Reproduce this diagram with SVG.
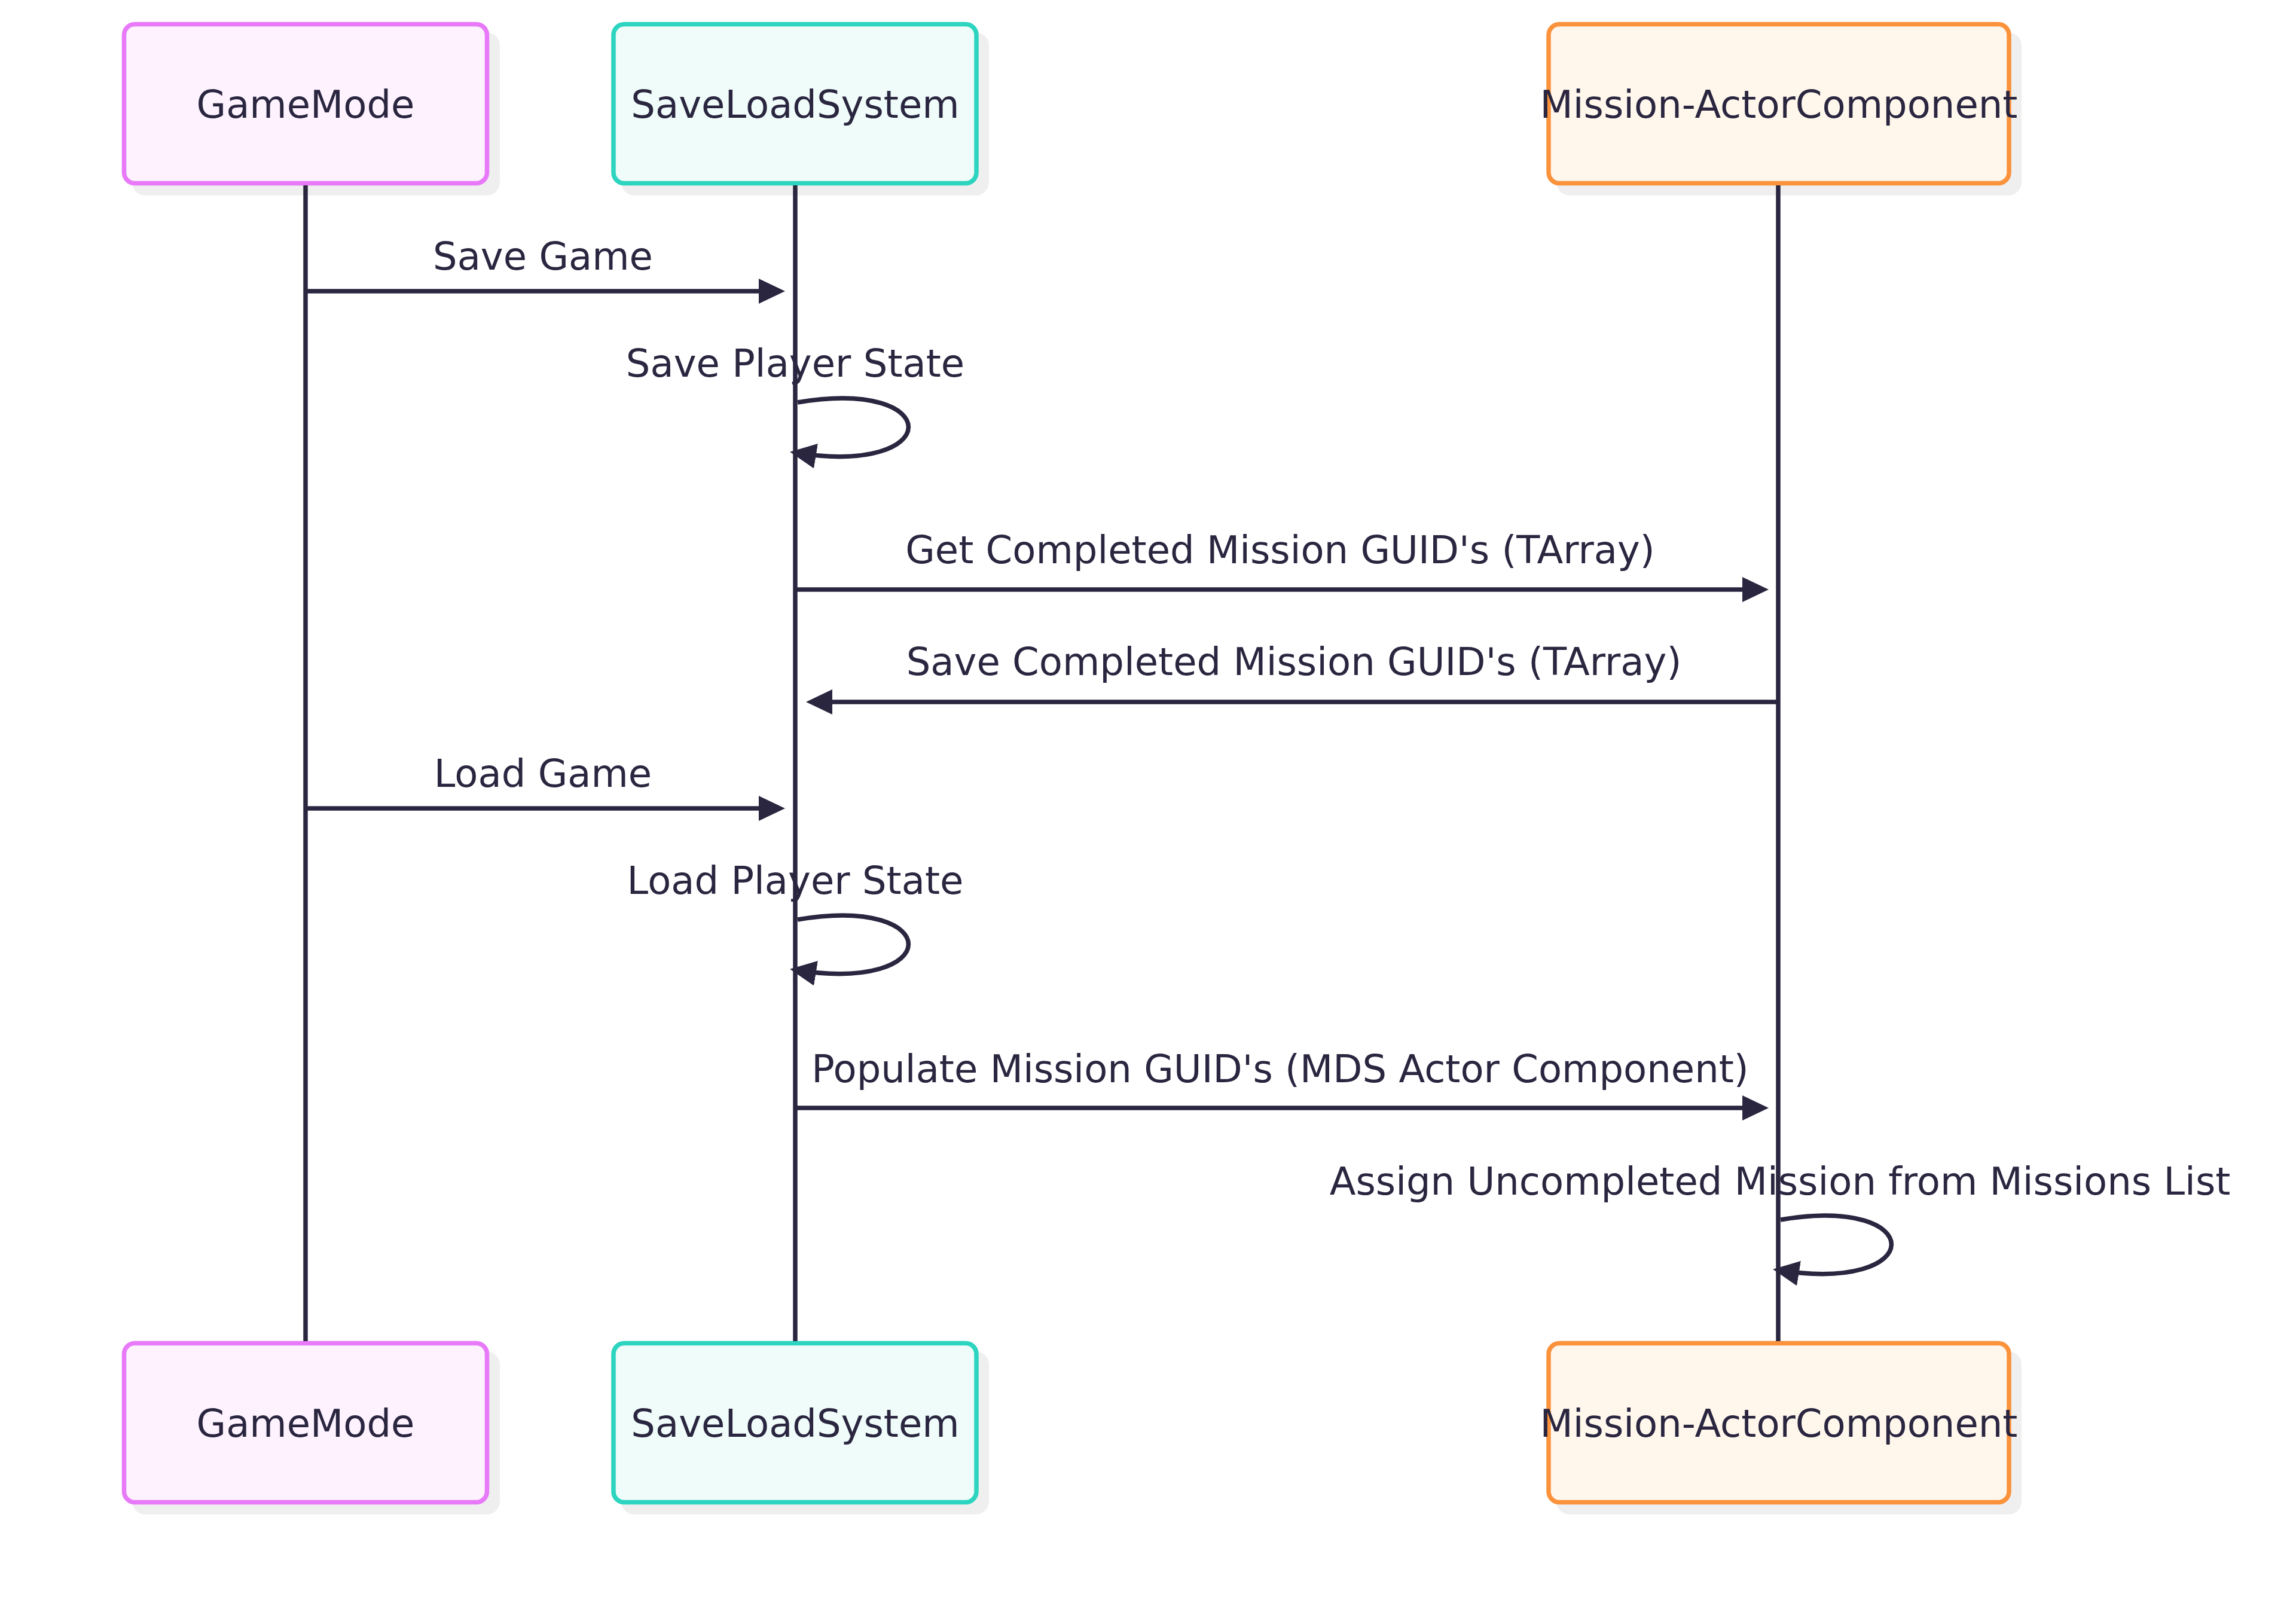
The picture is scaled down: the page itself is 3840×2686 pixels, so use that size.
<svg xmlns="http://www.w3.org/2000/svg" width="3840" height="2686" viewBox="0 0 3840 2686">
<defs>
<style>
text{font-family:"DejaVu Sans","Noto Sans",sans-serif;fill:#2a2640;}
.lbl{font-size:64px;text-anchor:middle;}
.msg{font-size:64px;text-anchor:middle;}
.shadow{fill:#efefef;}
.gm{fill:#fdf2fe;stroke:#e879f9;stroke-width:7.5;}
.sl{fill:#effcf9;stroke:#2dd4bf;stroke-width:7.5;}
.mc{fill:#fff6ec;stroke:#fb923c;stroke-width:7.5;}
.life{stroke:#2a2640;stroke-width:7.5;fill:none;}
.m{stroke:#2a2640;stroke-width:7.5;fill:none;marker-end:url(#arr);}
</style>
<marker id="arr" viewBox="0 0 44 42" refX="36" refY="21" markerWidth="44" markerHeight="42" markerUnits="userSpaceOnUse" orient="auto">
<path d="M0,0 L44,21 L0,42 z" fill="#2a2640"/>
</marker>
</defs>
<rect width="3840" height="2686" fill="#ffffff"/>
<g id="GameMode-top">
<rect class="shadow" x="221" y="54" width="615" height="273" rx="22"/>
<rect class="gm" x="207.5" y="40.5" width="607" height="266" rx="18"/>
<text class="lbl" x="511" y="197">GameMode</text>
</g>
<g id="SaveLoadSystem-top">
<rect class="shadow" x="1039" y="54" width="615" height="273" rx="22"/>
<rect class="sl" x="1026" y="40.5" width="607" height="266" rx="18"/>
<text class="lbl" x="1330" y="197">SaveLoadSystem</text>
</g>
<g id="MissionActorComponent-top">
<rect class="shadow" x="2603" y="54" width="778" height="273" rx="22"/>
<rect class="mc" x="2590" y="40.5" width="770" height="266" rx="18"/>
<text class="lbl" x="2975" y="197">Mission-ActorComponent</text>
</g>
<g id="GameMode-bottom">
<rect class="shadow" x="221" y="2260" width="615" height="273" rx="22"/>
<rect class="gm" x="207.5" y="2246.5" width="607" height="266" rx="18"/>
<text class="lbl" x="511" y="2403">GameMode</text>
</g>
<g id="SaveLoadSystem-bottom">
<rect class="shadow" x="1039" y="2260" width="615" height="273" rx="22"/>
<rect class="sl" x="1026" y="2246.5" width="607" height="266" rx="18"/>
<text class="lbl" x="1330" y="2403">SaveLoadSystem</text>
</g>
<g id="MissionActorComponent-bottom">
<rect class="shadow" x="2603" y="2260" width="778" height="273" rx="22"/>
<rect class="mc" x="2590" y="2246.5" width="770" height="266" rx="18"/>
<text class="lbl" x="2975" y="2403">Mission-ActorComponent</text>
</g>
<g id="lifelines">
<line class="life" x1="511" y1="310" x2="511" y2="2243"/>
<line class="life" x1="1330" y1="310" x2="1330" y2="2243"/>
<line class="life" x1="2974" y1="310" x2="2974" y2="2243"/>
</g>
<g id="connectors">
<line class="m" x1="511" y1="487" x2="1305" y2="487"/>
<path class="m" d="M1334,673 C1582,631 1582,798 1329,757"/>
<line class="m" x1="1330" y1="986" x2="2950" y2="986"/>
<line class="m" x1="2974" y1="1174" x2="1356" y2="1174"/>
<line class="m" x1="511" y1="1352" x2="1305" y2="1352"/>
<path class="m" d="M1334,1538 C1582,1496 1582,1663 1329,1622"/>
<line class="m" x1="1330" y1="1853" x2="2950" y2="1853"/>
<path class="m" d="M2978,2040 C3226,1998 3226,2165 2973,2124"/>
</g>
<g id="message-labels">
<text class="msg" x="908" y="451">Save Game</text>
<text class="msg" x="1330" y="630">Save Player State</text>
<text class="msg" x="2141" y="942">Get Completed Mission GUID's (TArray)</text>
<text class="msg" x="2164" y="1129">Save Completed Mission GUID's (TArray)</text>
<text class="msg" x="908" y="1316">Load Game</text>
<text class="msg" x="1330" y="1495">Load Player State</text>
<text class="msg" x="2141" y="1810">Populate Mission GUID's (MDS Actor Component)</text>
<text class="msg" x="2977" y="1998">Assign Uncompleted Mission from Missions List</text>
</g>
</svg>
